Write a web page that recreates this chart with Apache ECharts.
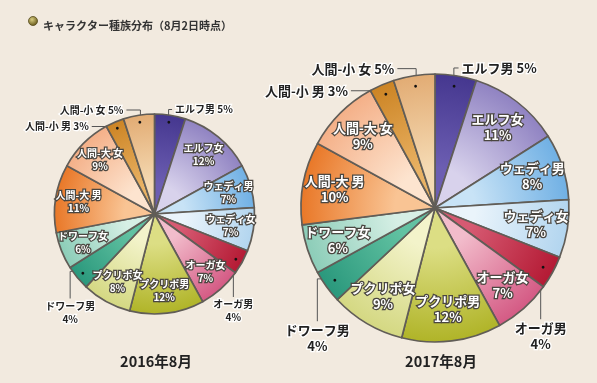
<!DOCTYPE html>
<html><head><meta charset="utf-8">
<script src="https://cdn.jsdelivr.net/npm/echarts@6/dist/echarts.min.js"></script>
<style>html,body{margin:0;padding:0;background:#f2eadf}#c{width:597px;height:383px}</style>
</head><body><div id="c"></div>
<script>
const chartTitle = 'キャラクター種族分布（8月2日時点）';
const years = ['2016年8月', '2017年8月'];
const categories = ['エルフ男','エルフ女','ウェディ男','ウェディ女','オーガ男','オーガ女','プクリポ男','プクリポ女','ドワーフ男','ドワーフ女','人間-大 男','人間-大 女','人間-小 男','人間-小 女'];
const share2016 = [5,12,7,7,4,7,12,8,4,6,11,9,3,5];
const share2017 = [5,11,8,7,4,7,12,9,4,6,10,9,3,5];
const shares = [share2016, share2017];

// styling (outer colour, inner colour) per category
const colorPairs = {
  'エルフ男':['#45378f','#6c5eb2'],
  'エルフ女':['#9083c2','#d8d2ec'],
  'ウェディ男':['#70b0e4','#c8e3f6'],
  'ウェディ女':['#b2d5ef','#eaf4fb'],
  'オーガ男':['#b41a34','#d65a72'],
  'オーガ女':['#d45a84','#f2bccb'],
  'プクリポ男':['#b0b428','#dcde84'],
  'プクリポ女':['#d4d882','#f3f3ca'],
  'ドワーフ男':['#2a987c','#62c2a2'],
  'ドワーフ女':['#8ccdb8','#d6efe5'],
  '人間-大 男':['#e97828','#f9c494'],
  '人間-大 女':['#f4b088','#fde4cf'],
  '人間-小 男':['#cc8424','#e9b264'],
  '人間-小 女':['#e2ac74','#f5dab3']
};
// layout of the two pies
const pies = [
  {cx:154.5, cy:214, r:100, font:10, lh:13, subTop:349, subFont:14.5, subX:151},
  {cx:435, cy:208, r:134, font:13, lh:16, subTop:349, subFont:14.5, subX:436}
];
const dotF = 0.9, inF = 0.74;
// outside labels layout (in units of radius)
const outside = {
  'エルフ男':{dir:'up', y:-1.045, h:0.035},
  '人間-小 女':{dir:'up', y:-1.04, h:-0.14},
  '人間-小 男':{dir:'up', y:-0.875, h:-0.27},
  'オーガ男':{dir:'down', y:0.83, h:0},
  'ドワーフ男':{dir:'down', y:0.845, h:-0.15}
};

function midAngle(vals, i) {
  const tot = vals.reduce((a,b)=>a+b,0);
  let c = 0; for (let k=0;k<i;k++) c += vals[k];
  return (c + vals[i]/2) / tot * Math.PI * 2;
}
function grad(p, name) {
  const c = colorPairs[name];
  return {type:'radial', x:p.cx, y:p.cy, r:p.r, global:true,
    colorStops:[{offset:0,color:c[1]},{offset:0.3,color:c[1]},{offset:1,color:c[0]}]};
}

const series = [];
pies.forEach((p, si) => {
  const vals = shares[si];
  series.push({
    type:'pie', center:[p.cx,p.cy], radius:[0,p.r], startAngle:90, clockwise:true,
    avoidLabelOverlap:false, silent:true, emphasis:{disabled:true}, z:2,
    itemStyle:{borderColor:'#615d57', borderWidth:1.7},
    label:{show:true, position:'outside', fontFamily:'Noto Sans CJK JP', fontWeight:'bold',
      fontSize:p.font, lineHeight:p.lh, color:'#222', textBorderColor:'#fff', textBorderWidth:2.5,
      formatter: d => { const s = outside[d.name]; if (!s) return ''; return s.dir==='up' ? d.name+' '+d.value+'%' : d.name+'\n'+d.value+'%'; }},
    labelLine:{show:true, lineStyle:{color:'#555', width:1}},
    labelLayout: (prm) => {
      const name = categories[prm.dataIndex];
      const s = outside[name]; if (!s) return {};
      const a = midAngle(vals, prm.dataIndex);
      const dot = [p.cx + dotF*p.r*Math.sin(a), p.cy - dotF*p.r*Math.cos(a)];
      if (s.dir === 'up') {
        const ly = p.cy + s.y*p.r;
        const corner = [dot[0], ly];
        const end = [dot[0] + s.h*p.r, ly];
        return {x: end[0] + (s.h>0?3:-3), y: ly, align: s.h>0?'left':'right', verticalAlign:'middle',
          labelLinePoints:[dot, corner, end], hideOverlap:false};
      } else {
        const corner = [dot[0] + s.h*p.r, dot[1]];
        const end = [corner[0], p.cy + s.y*p.r];
        return {x: end[0], y: end[1] + 1, align:'center', verticalAlign:'top',
          labelLinePoints:[dot, corner, end], hideOverlap:false};
      }
    },
    data: categories.map((n,i)=>({name:n, value:vals[i], itemStyle:{color:grad(p,n)},
      label:{show: !!outside[n]}, labelLine:{show: !!outside[n]}}))
  });
  // inside labels
  series.push({
    type:'pie', center:[p.cx,p.cy], radius:[(2*inF-1)*p.r, p.r], startAngle:90, clockwise:true,
    avoidLabelOverlap:false, silent:true, emphasis:{disabled:true}, z:3,
    itemStyle:{color:'rgba(0,0,0,0)', borderWidth:0},
    labelLayout:{hideOverlap:false},
    label:{show:true, position:'inside', fontFamily:'Noto Sans CJK JP', fontWeight:'bold',
      fontSize:p.font, lineHeight:p.lh, color:'#fff', textBorderColor:'#4a4640', textBorderWidth:2.5,
      formatter: d => d.name+'\n'+d.value+'%'},
    labelLine:{show:false},
    data: categories.map((n,i)=>({name:n, value:vals[i], label:{show: !outside[n]}}))
  });
  // dots
  series.push({
    type:'pie', center:[p.cx,p.cy], radius:[(2*dotF-1)*p.r, p.r], startAngle:90, clockwise:true,
    avoidLabelOverlap:false, silent:true, emphasis:{disabled:true}, z:4,
    itemStyle:{color:'rgba(0,0,0,0)', borderWidth:0},
    labelLayout:{hideOverlap:false},
    label:{show:true, position:'inside', fontSize:6.5, color:'#111', lineHeight:7, formatter:'●'},
    labelLine:{show:false},
    data: categories.map((n,i)=>({name:n, value:vals[i], label:{show: !!outside[n]}}))
  });
});

const chart = echarts.init(document.getElementById('c'), null, {renderer:'canvas'});
chart.setOption({
  backgroundColor:'#f2eadf',
  animation:false,
  title: [
    {text: chartTitle, left:38, top:15, textStyle:{fontFamily:'Noto Sans CJK JP', fontSize:11, fontWeight:'bold', color:'#333'}},
    ...years.map((y,i)=>({text:y, left:pies[i].subX, top:pies[i].subTop, textAlign:'center',
      textStyle:{fontFamily:'Noto Sans CJK JP', fontSize:pies[i].subFont, fontWeight:'bold', color:'#222'}}))
  ],
  graphic:[{type:'circle', shape:{cx:33, cy:21, r:4.5},
    style:{fill:{type:'radial', x:0.4, y:0.35, r:0.6, colorStops:[{offset:0,color:'#d8cc80'},{offset:1,color:'#6e6020'}]},
      stroke:'#554a1c', lineWidth:0.8}}],
  series
});
</script></body></html>
